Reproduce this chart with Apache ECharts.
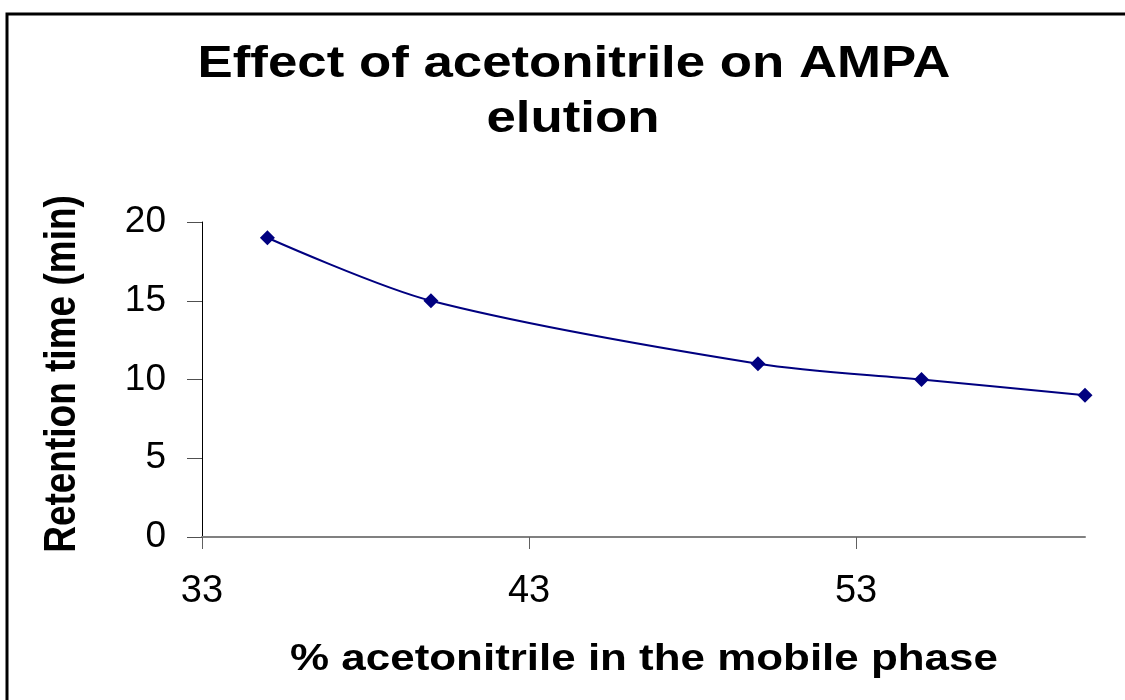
<!DOCTYPE html>
<html>
<head>
<meta charset="utf-8">
<style>
  html, body { margin: 0; padding: 0; background: #fff; }
  #chart { width: 1125px; height: 700px; }
</style>
<script src="https://cdn.jsdelivr.net/npm/echarts@6/dist/echarts.min.js"></script>
</head>
<body>
<div id="chart"></div>
<script>
// Acetonitrile content of the mobile phase (%) and AMPA retention time (min)
const acetonitrilePct = [35, 40, 50, 55, 60];
const retentionMin = [19, 15, 11, 10, 9];
const xTickValues = [33, 43, 53];
const yTickValues = [0, 5, 10, 15, 20];

const titleLines = ['Effect of acetonitrile on AMPA', 'elution'];
const xAxisTitle = '% acetonitrile in the mobile phase';
const yAxisTitle = 'Retention time (min)';

const FONT = '"Liberation Sans", Arial, sans-serif';
const STRETCH = 1.2; // horizontal widening of the heading glyphs

const chart = echarts.init(document.getElementById('chart'), null, { renderer: 'canvas' });

chart.setOption({
  backgroundColor: '#ffffff',
  animation: false,
  grid: { left: 202, right: 40, top: 222, bottom: 163, containLabel: false },
  xAxis: {
    type: 'value',
    min: 33,
    max: 60,
    interval: 10,
    axisLine: { show: true, lineStyle: { color: '#808080', width: 2 } },
    axisTick: {
      show: true, inside: false, length: 12,
      customValues: xTickValues,
      lineStyle: { color: '#606060', width: 1 }
    },
    axisLabel: {
      show: true, margin: 36,
      customValues: xTickValues,
      color: '#000', fontFamily: FONT, fontSize: 38
    },
    splitLine: { show: false }
  },
  yAxis: {
    type: 'value',
    min: 0,
    max: 20,
    interval: 5,
    axisLine: { show: true, onZero: false, lineStyle: { color: '#000', width: 1 } },
    axisTick: {
      show: true, inside: false, length: 15,
      customValues: yTickValues,
      lineStyle: { color: '#505050', width: 1 }
    },
    axisLabel: {
      show: true, margin: 36,
      customValues: yTickValues,
      color: '#000', fontFamily: FONT, fontSize: 37
    },
    splitLine: { show: false }
  },
  series: [{
    type: 'line',
    data: acetonitrilePct.map((x, i) => [x, retentionMin[i]]),
    smooth: 0.3,
    symbol: 'diamond',
    symbolSize: 15,
    lineStyle: { color: '#000080', width: 2 },
    itemStyle: { color: '#000080' }
  }],
  graphic: [
    {
      type: 'rect',
      silent: true,
      shape: { x: 7, y: 14, width: 1300, height: 900 },
      style: { fill: 'none', stroke: '#000', lineWidth: 3 }
    },
    {
      type: 'text',
      x: 574, y: 65, scaleX: STRETCH,
      style: {
        text: titleLines[0], fill: '#000',
        font: 'bold 44px ' + FONT, textAlign: 'center', textVerticalAlign: 'middle'
      }
    },
    {
      type: 'text',
      x: 573, y: 120, scaleX: STRETCH,
      style: {
        text: titleLines[1], fill: '#000',
        font: 'bold 44px ' + FONT, textAlign: 'center', textVerticalAlign: 'middle'
      }
    },
    {
      type: 'text',
      x: 644, y: 660, scaleX: 1.22,
      style: {
        text: xAxisTitle, fill: '#000',
        font: 'bold 36px ' + FONT, textAlign: 'center', textVerticalAlign: 'middle'
      }
    },
    {
      type: 'text',
      x: 63, y: 374, rotation: Math.PI / 2, scaleY: 1.22,
      style: {
        text: yAxisTitle, fill: '#000',
        font: 'bold 37px ' + FONT, textAlign: 'center', textVerticalAlign: 'middle'
      }
    }
  ]
});
</script>
</body>
</html>
